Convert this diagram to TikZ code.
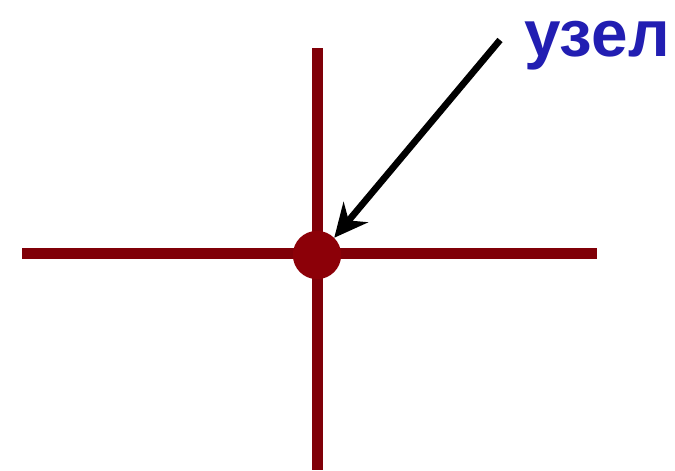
\documentclass[tikz,border=0pt]{standalone}
\usepackage{fontspec}
\setmainfont{Liberation Sans}
\usepackage{tikz}
\usepackage{xcolor}
\usetikzlibrary{arrows.meta, positioning, calc}

\definecolor{wirered}{RGB}{128,0,8}
\definecolor{dotred}{RGB}{140,0,8}
\definecolor{labelblue}{RGB}{34,30,178}

\begin{document}
\begin{tikzpicture}[x=0.03cm, y=-0.03cm]
    \useasboundingbox (0,0) rectangle (675,470);

    % Wires
    \coordinate (wireW) at (22,253);
    \coordinate (wireE) at (597,253);
    \coordinate (wireN) at (317,48);
    \coordinate (wireS) at (317,470);
    \draw[line width=0.33cm, draw=wirered] (wireW) -- (wireE);
    \draw[line width=0.33cm, draw=wirered] (wireN) -- (wireS);

    % Node dot
    \node[circle, fill=dotred, minimum size=1.45cm, inner sep=0pt] (uzel) at (317,255) {};

    % Label
    \node[anchor=west, inner sep=0pt, text=labelblue, font=\fontsize{56}{60}\bfseries] (label) at (524,46) {узел};

    % Pointer arrow
    \coordinate (tail) at (500,40);
    \draw[line width=0.2cm, -{Stealth[length=1.0cm, width=0.95cm]}, draw=black] (tail) -- (uzel.north east);

\end{tikzpicture}
\end{document}
